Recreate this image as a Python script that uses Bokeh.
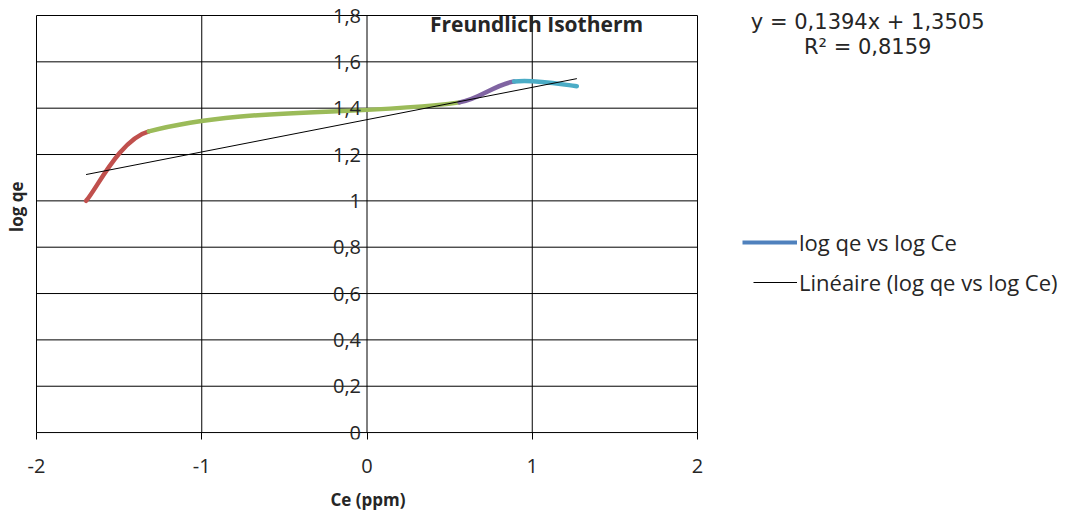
import numpy as np
from bokeh.plotting import figure
from bokeh.models import (FixedTicker, Label, LabelSet, ColumnDataSource, Legend, LegendItem,
                          Range1d, Title)
from bokeh.core.properties import value
from bokeh.embed import file_html
from bokeh.resources import INLINE

# ---- data ----
log_ce = [-1.70, -1.32, 0.56, 0.89, 1.27]
log_qe = [1.00, 1.30, 1.425, 1.515, 1.495]
segment_colors = ["#C0504D", "#9BBB59", "#8064A2", "#4BACC6"]
series_color = "#4F81BD"
trend_slope = 0.1394
trend_intercept = 1.3505
eq_text = "y = 0,1394x + 1,3505"
r2_text = "R² = 0,8159"
x_ticks = [-2, -1, 0, 1, 2]
x_tick_labels = ["-2", "-1", "0", "1", "2"]
y_ticks = [0, 0.2, 0.4, 0.6, 0.8, 1.0, 1.2, 1.4, 1.6, 1.8]
y_tick_labels = ["0", "0,2", "0,4", "0,6", "0,8", "1", "1,2", "1,4", "1,6", "1,8"]
title_text = "Freundlich Isotherm"
x_title = "Ce (ppm)"
y_title = "log qe"
legend_series = "log qe vs log Ce"
legend_trend = "Linéaire (log qe vs log Ce)"

FONT = "Open Sans"
TXT = "#262626"

W, H = 1079, 525
PX_X = 165.25      # pixels per x unit
PX_Y = 231.7       # pixels per y unit
LEFT = 36          # pixel of x = -2
TOP = 15           # pixel of y = 1.8
BOTTOM_BORDER = 86
x_start = x_ticks[0] - LEFT / PX_X
x_end = x_start + W / PX_X
frame_h = H - BOTTOM_BORDER
y_top = y_ticks[-1] + TOP / PX_Y
y_bot = y_top - frame_h / PX_Y

p = figure(width=W, height=H, output_backend="svg", toolbar_location=None,
           x_range=Range1d(x_start, x_end), y_range=Range1d(y_bot, y_top),
           min_border_left=0, min_border_right=0, min_border_top=0,
           min_border_bottom=BOTTOM_BORDER)
p.background_fill_color = "white"
p.border_fill_color = "white"
p.outline_line_color = None
p.xgrid.visible = False
p.ygrid.visible = False

# plot box and gridlines from the tick arrays
p.segment(x0=x_ticks, x1=x_ticks, y0=[y_ticks[0]] * len(x_ticks), y1=[y_ticks[-1]] * len(x_ticks),
          line_color="black", line_width=1)
p.segment(x0=[x_ticks[0]] * len(y_ticks), x1=[x_ticks[-1]] * len(y_ticks), y0=y_ticks, y1=y_ticks,
          line_color="black", line_width=1)

# x axis
p.xaxis.bounds = (x_ticks[0], x_ticks[-1])
p.xaxis.ticker = FixedTicker(ticks=x_ticks)
p.xaxis.major_label_overrides = {t: l for t, l in zip(x_ticks, x_tick_labels)}
p.xaxis.minor_tick_line_color = None
p.xaxis.major_tick_in = 7
p.xaxis.major_tick_out = 0
p.xaxis.major_tick_line_color = "black"
p.xaxis.axis_line_color = None
p.xaxis.major_label_standoff = 19
p.xaxis.major_label_text_font = FONT
p.xaxis.major_label_text_font_size = "20px"
p.xaxis.major_label_text_color = TXT
p.yaxis.visible = False

p.add_layout(Title(text=x_title, align="left", offset=330, text_font=FONT,
                   text_font_style="bold", text_font_size="17px", text_color=TXT,
                   standoff=21), "below")

# smoothed series (Bezier handles from neighbouring data points)
P = np.column_stack([log_ce, log_qe])
S = P * np.array([PX_X, PX_Y])
n = len(P)
d = [np.hypot(*(S[i + 1] - S[i])) for i in range(n - 1)]
x0, y0, x1, y1, cx0, cy0, cx1, cy1 = [], [], [], [], [], [], [], []
for i in range(n - 1):
    pp = P[i - 1] if i > 0 else P[i]
    pn = P[i + 2] if i + 2 < n else P[i + 1]
    f0 = d[i] / (d[i - 1] + d[i]) if i > 0 else 0.5
    f1 = d[i] / (d[i] + d[i + 1]) if i + 1 < n - 1 else 0.5
    c0 = P[i] + (P[i + 1] - pp) * f0 / 3.0
    c1 = P[i + 1] - (pn - P[i]) * f1 / 3.0
    x0.append(P[i][0]); y0.append(P[i][1])
    x1.append(P[i + 1][0]); y1.append(P[i + 1][1])
    cx0.append(c0[0]); cy0.append(c0[1])
    cx1.append(c1[0]); cy1.append(c1[1])
p.bezier(x0=x0, y0=y0, x1=x1, y1=y1, cx0=cx0, cy0=cy0, cx1=cx1, cy1=cy1,
         line_color=segment_colors, line_width=4.5, line_cap="round")

# legend proxy for the series (zero-length, hidden under the first point)
proxy = p.line(x=[log_ce[0], log_ce[0]], y=[log_qe[0], log_qe[0]],
               line_color=series_color, line_width=4, line_cap="butt")

# trendline
tx = [log_ce[0], log_ce[-1]]
ty = [trend_slope * v + trend_intercept for v in tx]
trend = p.line(x=tx, y=ty, line_color="black", line_width=1)

# y tick labels along the x=0 axis
src = ColumnDataSource(dict(x=[0] * len(y_ticks), y=y_ticks, t=y_tick_labels))
p.add_layout(LabelSet(x="x", y="y", text="t", source=src, x_offset=-6,
                      text_align="right", text_baseline="middle",
                      text_font=value(FONT), text_font_size=value("20px"),
                      text_color=TXT))

# y title
p.add_layout(Label(x=x_ticks[0], y=0.975, x_offset=-20, text=y_title, angle=np.pi / 2,
                   text_align="center", text_baseline="middle",
                   text_font=FONT, text_font_style="bold", text_font_size="17px",
                   text_color=TXT))

# chart title inside plot
p.add_layout(Label(x=1.026, y=1.765, text=title_text, text_align="center",
                   text_baseline="middle", text_font=FONT, text_font_style="bold",
                   text_font_size="21px", text_color=TXT))

# equation
p.add_layout(Label(x=3.03, y=1.774, text=eq_text, text_align="center", text_baseline="middle",
                   text_font="DejaVu Sans", text_font_size="21px", text_color=TXT))
p.add_layout(Label(x=3.03, y=1.662, text=r2_text, text_align="center", text_baseline="middle",
                   text_font="DejaVu Sans", text_font_size="21px", text_color=TXT))

# legends
LH = 28
common = dict(glyph_height=LH, label_height=LH, label_standoff=2, padding=0, margin=0,
              border_line_color=None, background_fill_alpha=0, label_text_font=FONT,
              label_text_font_size="22px", label_text_color=TXT)
fb = H - BOTTOM_BORDER
leg1 = Legend(items=[LegendItem(label=legend_series, renderers=[proxy])],
              location=(742, fb - 243 - LH // 2), glyph_width=55, **common)
leg2 = Legend(items=[LegendItem(label=legend_trend, renderers=[trend])],
              location=(753, fb - 283 - LH // 2), glyph_width=44, **common)
p.add_layout(leg1)
p.add_layout(leg2)

open("out.html", "w").write(file_html(p, INLINE))
